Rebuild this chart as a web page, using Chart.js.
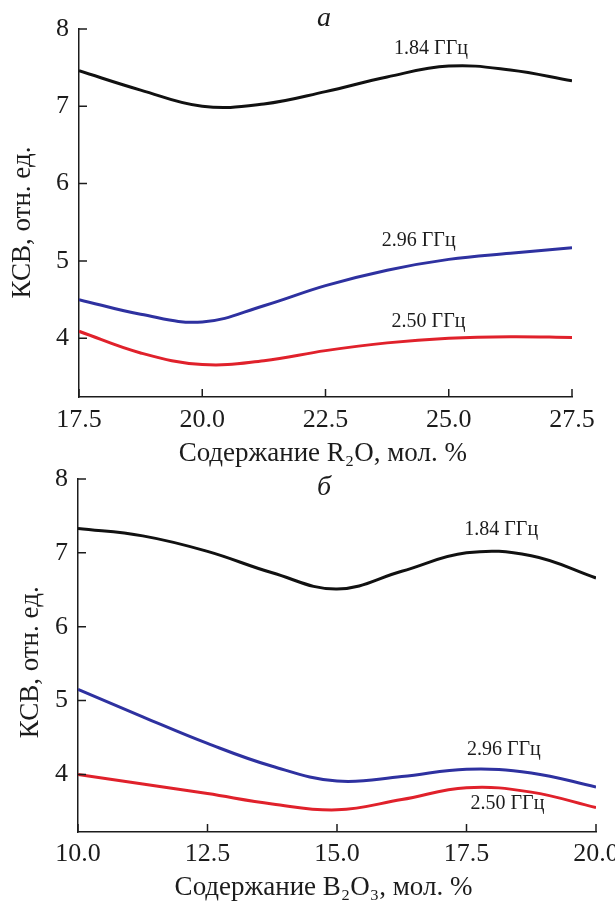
<!DOCTYPE html>
<html>
<head>
<meta charset="utf-8">
<script src="https://cdn.jsdelivr.net/npm/chart.js@4/dist/chart.umd.min.js"></script>
<style>
  html, body { margin: 0; padding: 0; background: #fff; }
  body { width: 615px; height: 902px; position: relative; overflow: hidden; }
  .panel { position: absolute; left: 0; width: 640px; }
  #panelA { top: 0; height: 480px; }
  #panelB { top: 450px; height: 460px; }
</style>
</head>
<body>
<div class="panel" id="panelA"><canvas id="chartA"></canvas></div>
<div class="panel" id="panelB"><canvas id="chartB"></canvas></div>

<script>
// panel а: КСВ vs R2O content
const xR2O = [17.5, 18.75, 20.0, 21.25, 22.5, 23.75, 25.0, 26.25, 27.5];
const vswrR2O_184 = [7.46, 7.21, 7.00, 7.03, 7.19, 7.38, 7.52, 7.47, 7.33];
const vswrR2O_296 = [4.50, 4.31, 4.21, 4.42, 4.68, 4.88, 5.02, 5.10, 5.17];
const vswrR2O_250 = [4.09, 3.81, 3.66, 3.71, 3.84, 3.94, 4.00, 4.02, 4.01];
const xTicksR2O = [17.5, 20.0, 22.5, 25.0, 27.5];

// panel б: КСВ vs B2O3 content
const xB2O3 = [10.0, 11.25, 12.5, 13.75, 15.0, 16.25, 17.5, 18.75, 20.0];
const vswrB2O3_184 = [7.33, 7.23, 7.02, 6.73, 6.51, 6.75, 7.00, 6.96, 6.66];
const vswrB2O3_296 = [5.15, 4.78, 4.42, 4.11, 3.91, 3.97, 4.07, 4.02, 3.83];
const vswrB2O3_250 = [4.00, 3.87, 3.74, 3.60, 3.52, 3.66, 3.82, 3.76, 3.55];
const xTicksB2O3 = [10.0, 12.5, 15.0, 17.5, 20.0];

const yTicks = [4, 5, 6, 7, 8];
const freqNames = ["1.84 ГГц", "2.96 ГГц", "2.50 ГГц"];
const lineColors = ["#111111", "#2e31a0", "#e0212b"];

const serif = '"Liberation Serif", "Times New Roman", serif';
const inkColor = "#1c1c1c";

// short tick marks pointing into the plot
const innerTicks = {
  id: "innerTicks",
  afterDraw(chart) {
    const { ctx, scales: { x, y } } = chart;
    ctx.save();
    ctx.strokeStyle = inkColor;
    ctx.lineWidth = 1.5;
    ctx.beginPath();
    x.ticks.forEach(t => {
      const px = x.getPixelForValue(t.value);
      ctx.moveTo(px, x.top);
      ctx.lineTo(px, x.top - 8);
    });
    y.ticks.forEach(t => {
      const py = y.getPixelForValue(t.value);
      ctx.moveTo(y.right, py);
      ctx.lineTo(y.right + 8, py);
    });
    ctx.stroke();
    ctx.restore();
  }
};

// text placed in data coordinates (curve names, panel letter)
const curveLabels = {
  id: "curveLabels",
  afterDatasetsDraw(chart, args, opts) {
    const { ctx, scales: { x, y } } = chart;
    ctx.save();
    ctx.fillStyle = inkColor;
    ctx.textAlign = "center";
    ctx.textBaseline = "middle";
    opts.items.forEach(it => {
      ctx.font = it.font;
      ctx.fillText(it.text, x.getPixelForValue(it.x), y.getPixelForValue(it.y));
    });
    ctx.restore();
  }
};

function makeChart(id, xs, series, xTicks, cfg) {
  const datasets = series.map((vals, i) => ({
    label: freqNames[i],
    data: xs.map((xv, k) => ({ x: xv, y: vals[k] })),
    borderColor: lineColors[i],
    borderWidth: 3,
    pointRadius: 0,
    tension: 0.4,
    fill: false
  }));

  return new Chart(document.getElementById(id), {
    type: "line",
    data: { datasets: datasets },
    plugins: [innerTicks, curveLabels],
    options: {
      responsive: true,
      maintainAspectRatio: false,
      animation: false,
      layout: { padding: { top: cfg.padTop, right: cfg.padRight, left: 0, bottom: 0 } },
      plugins: {
        legend: { display: false },
        tooltip: { enabled: false },
        curveLabels: { items: cfg.labels }
      },
      scales: {
        x: {
          type: "linear",
          min: xTicks[0],
          max: xTicks[xTicks.length - 1],
          afterBuildTicks: s => { s.ticks = xTicks.map(v => ({ value: v })); },
          afterFit: s => { s.height = cfg.xAxisHeight; },
          grid: { display: false, drawTicks: false },
          border: { display: true, color: inkColor, width: 1.5 },
          ticks: {
            autoSkip: false,
            maxRotation: 0,
            padding: cfg.xTickPad,
            color: inkColor,
            font: { family: serif, size: 26 },
            callback: v => v.toFixed(1)
          },
          title: {
            display: true,
            text: cfg.xTitle,
            color: inkColor,
            font: { family: serif, size: 27 },
            padding: { top: 0, bottom: cfg.xTitlePad }
          }
        },
        y: {
          min: cfg.yMin,
          max: 8,
          afterBuildTicks: s => { s.ticks = yTicks.map(v => ({ value: v })); },
          afterFit: s => { s.width = cfg.yAxisWidth; },
          grid: { display: false, drawTicks: false },
          border: { display: true, color: inkColor, width: 1.5 },
          ticks: {
            padding: 10,
            color: inkColor,
            font: { family: serif, size: 26 },
            callback: v => String(v)
          },
          title: {
            display: true,
            text: cfg.yTitle,
            color: inkColor,
            font: { family: serif, size: 27 },
            padding: { top: cfg.yTitlePad, bottom: 0 }
          }
        }
      }
    }
  });
}

const labelFont = "20px " + serif;
const letterFont = "italic 28px " + serif;

// trailing spaces nudge the centred axis titles off the plot centre
makeChart("chartA", xR2O, [vswrR2O_184, vswrR2O_296, vswrR2O_250], xTicksR2O, {
  xTitle: "Содержание R₂O, мол. %\u2009",
  yTitle: "КСВ, отн. ед.\u2002\u2009",
  yMin: 3.24,
  padTop: 29,
  padRight: 68,
  yAxisWidth: 79,
  xAxisHeight: 83,
  xTickPad: 8,
  xTitlePad: 10,
  yTitlePad: 7,
  labels: [
    { text: "а", x: 22.47, y: 8.13, font: letterFont },
    { text: freqNames[0], x: 24.64, y: 7.75, font: labelFont },
    { text: freqNames[1], x: 24.39, y: 5.26, font: labelFont },
    { text: freqNames[2], x: 24.59, y: 4.21, font: labelFont }
  ]
});

makeChart("chartB", xB2O3, [vswrB2O3_184, vswrB2O3_296, vswrB2O3_250], xTicksB2O3, {
  xTitle: "Содержание B₂O₃, мол. %\u2003",
  yTitle: "КСВ, отн. ед.\u2002",
  yMin: 3.22,
  padTop: 29,
  padRight: 44,
  yAxisWidth: 78,
  xAxisHeight: 78,
  xTickPad: 7,
  xTitlePad: 6,
  yTitlePad: 15,
  labels: [
    { text: "б", x: 14.75, y: 7.88, font: letterFont },
    { text: freqNames[0], x: 18.17, y: 7.31, font: labelFont },
    { text: freqNames[1], x: 18.22, y: 4.34, font: labelFont },
    { text: freqNames[2], x: 18.29, y: 3.60, font: labelFont }
  ]
});
</script>
</body>
</html>
